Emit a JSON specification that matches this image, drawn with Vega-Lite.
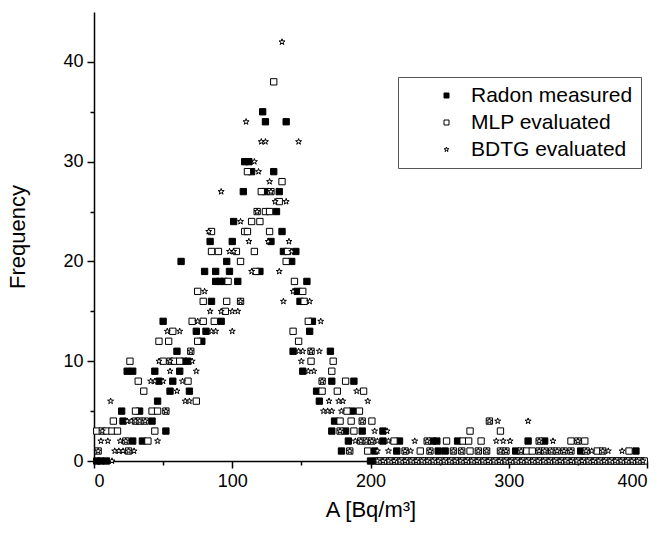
{
"$schema": "https://vega.github.io/schema/vega-lite/v6.json",
"width": 553, "height": 449,
"autosize": {"type": "none"},
"padding": {"left": 94, "top": 12, "right": 18, "bottom": 72},
"background": "white",
"config": {"view": {"stroke": null}, "font": "Liberation Sans"},
"data": {"values": [
{"s":"R","x":2,"y":0},{"s":"R","x":5,"y":0},{"s":"R","x":9,"y":0},{"s":"R","x":28,"y":2},{"s":"R","x":35,"y":2},{"s":"R","x":52,"y":3},{"s":"R","x":21,"y":4},{"s":"R","x":42,"y":4},{"s":"R","x":20,"y":5},{"s":"R","x":33,"y":5},{"s":"R","x":46,"y":6},{"s":"R","x":55,"y":7},{"s":"R","x":69,"y":7},{"s":"R","x":47,"y":8},{"s":"R","x":57,"y":8},{"s":"R","x":24,"y":9},{"s":"R","x":28,"y":9},{"s":"R","x":44,"y":9},{"s":"R","x":62,"y":9},{"s":"R","x":65,"y":10},{"s":"R","x":68,"y":10},{"s":"R","x":60,"y":11},{"s":"R","x":78,"y":12},{"s":"R","x":74,"y":13},{"s":"R","x":81,"y":13},{"s":"R","x":50,"y":14},{"s":"R","x":92,"y":14},{"s":"R","x":85,"y":16},{"s":"R","x":88,"y":18},{"s":"R","x":91,"y":18},{"s":"R","x":94,"y":18},{"s":"R","x":104,"y":18},{"s":"R","x":80,"y":19},{"s":"R","x":88,"y":19},{"s":"R","x":98,"y":19},{"s":"R","x":120,"y":19},{"s":"R","x":63,"y":20},{"s":"R","x":96,"y":20},{"s":"R","x":84,"y":22},{"s":"R","x":100,"y":22},{"s":"R","x":128,"y":22},{"s":"R","x":101,"y":24},{"s":"R","x":132,"y":25},{"s":"R","x":108,"y":27},{"s":"R","x":124,"y":27},{"s":"R","x":134,"y":27},{"s":"R","x":114,"y":29},{"s":"R","x":130,"y":29},{"s":"R","x":109,"y":30},{"s":"R","x":112,"y":30},{"s":"R","x":124,"y":34},{"s":"R","x":139,"y":34},{"s":"R","x":122,"y":35},
{"s":"R","x":136,"y":23},{"s":"R","x":137,"y":21},{"s":"R","x":146,"y":21},{"s":"R","x":143,"y":20},{"s":"R","x":154,"y":18},{"s":"R","x":147,"y":17},{"s":"R","x":149,"y":16},{"s":"R","x":158,"y":14},{"s":"R","x":156,"y":13},{"s":"R","x":144,"y":11},{"s":"R","x":171,"y":11},{"s":"R","x":151,"y":9},{"s":"R","x":172,"y":8},{"s":"R","x":188,"y":8},{"s":"R","x":161,"y":7},{"s":"R","x":163,"y":6},{"s":"R","x":187,"y":5},{"s":"R","x":174,"y":4},{"s":"R","x":172,"y":3},{"s":"R","x":182,"y":3},{"s":"R","x":194,"y":3},{"s":"R","x":209,"y":3},{"s":"R","x":184,"y":2},{"s":"R","x":209,"y":2},{"s":"R","x":221,"y":2},{"s":"R","x":245,"y":2},{"s":"R","x":248,"y":2},{"s":"R","x":263,"y":2},{"s":"R","x":314,"y":2},{"s":"R","x":326,"y":2},{"s":"R","x":179,"y":1},{"s":"R","x":203,"y":1},{"s":"R","x":219,"y":1},{"s":"R","x":249,"y":1},{"s":"R","x":254,"y":1},{"s":"R","x":305,"y":1},{"s":"R","x":352,"y":1},{"s":"R","x":392,"y":1},
{"s":"R","x":200,"y":0},{"s":"R","x":204,"y":0},{"s":"R","x":208,"y":0},{"s":"R","x":212,"y":0},{"s":"R","x":216,"y":0},{"s":"R","x":220,"y":0},{"s":"R","x":224,"y":0},{"s":"R","x":228,"y":0},{"s":"R","x":232,"y":0},{"s":"R","x":236,"y":0},{"s":"R","x":240,"y":0},{"s":"R","x":244,"y":0},{"s":"R","x":248,"y":0},{"s":"R","x":252,"y":0},{"s":"R","x":256,"y":0},{"s":"R","x":260,"y":0},{"s":"R","x":264,"y":0},{"s":"R","x":268,"y":0},{"s":"R","x":272,"y":0},{"s":"R","x":276,"y":0},{"s":"R","x":280,"y":0},{"s":"R","x":284,"y":0},{"s":"R","x":288,"y":0},{"s":"R","x":292,"y":0},{"s":"R","x":296,"y":0},{"s":"R","x":300,"y":0},{"s":"R","x":304,"y":0},{"s":"R","x":308,"y":0},{"s":"R","x":312,"y":0},{"s":"R","x":316,"y":0},{"s":"R","x":320,"y":0},{"s":"R","x":324,"y":0},{"s":"R","x":328,"y":0},{"s":"R","x":332,"y":0},{"s":"R","x":336,"y":0},{"s":"R","x":340,"y":0},{"s":"R","x":344,"y":0},{"s":"R","x":348,"y":0},{"s":"R","x":352,"y":0},{"s":"R","x":356,"y":0},{"s":"R","x":360,"y":0},{"s":"R","x":364,"y":0},{"s":"R","x":368,"y":0},{"s":"R","x":372,"y":0},{"s":"R","x":376,"y":0},{"s":"R","x":380,"y":0},{"s":"R","x":384,"y":0},{"s":"R","x":388,"y":0},{"s":"R","x":392,"y":0},{"s":"R","x":396,"y":0},
{"s":"M","x":2,"y":3},{"s":"M","x":3,"y":1},{"s":"M","x":6,"y":3},{"s":"M","x":9,"y":3},{"s":"M","x":13,"y":3},{"s":"M","x":17,"y":3},{"s":"M","x":23,"y":2},{"s":"M","x":39,"y":2},{"s":"M","x":25,"y":1},{"s":"M","x":44,"y":3},{"s":"M","x":14,"y":4},{"s":"M","x":30,"y":4},{"s":"M","x":33,"y":4},{"s":"M","x":37,"y":4},{"s":"M","x":30,"y":5},{"s":"M","x":42,"y":5},{"s":"M","x":46,"y":5},{"s":"M","x":52,"y":5},{"s":"M","x":74,"y":6},{"s":"M","x":36,"y":7},{"s":"M","x":32,"y":8},{"s":"M","x":68,"y":8},{"s":"M","x":26,"y":10},{"s":"M","x":50,"y":10},{"s":"M","x":55,"y":10},{"s":"M","x":58,"y":10},{"s":"M","x":62,"y":10},{"s":"M","x":70,"y":11},{"s":"M","x":47,"y":12},{"s":"M","x":54,"y":12},{"s":"M","x":75,"y":12},{"s":"M","x":57,"y":13},{"s":"M","x":71,"y":14},{"s":"M","x":79,"y":14},{"s":"M","x":87,"y":14},{"s":"M","x":95,"y":15},{"s":"M","x":79,"y":16},{"s":"M","x":96,"y":16},{"s":"M","x":106,"y":16},{"s":"M","x":75,"y":17},{"s":"M","x":97,"y":18},{"s":"M","x":117,"y":19},{"s":"M","x":106,"y":20},{"s":"M","x":85,"y":21},{"s":"M","x":90,"y":21},{"s":"M","x":103,"y":21},{"s":"M","x":116,"y":21},{"s":"M","x":85,"y":23},{"s":"M","x":109,"y":23},{"s":"M","x":111,"y":23},{"s":"M","x":127,"y":23},{"s":"M","x":114,"y":24},{"s":"M","x":120,"y":24},{"s":"M","x":118,"y":25},{"s":"M","x":124,"y":25},{"s":"M","x":127,"y":25},{"s":"M","x":134,"y":26},{"s":"M","x":121,"y":27},{"s":"M","x":128,"y":27},{"s":"M","x":136,"y":28},{"s":"M","x":111,"y":29},{"s":"M","x":130,"y":38},
{"s":"M","x":140,"y":21},{"s":"M","x":139,"y":20},{"s":"M","x":145,"y":18},{"s":"M","x":151,"y":17},{"s":"M","x":152,"y":16},{"s":"M","x":155,"y":14},{"s":"M","x":144,"y":13},{"s":"M","x":148,"y":12},{"s":"M","x":157,"y":11},{"s":"M","x":157,"y":10},{"s":"M","x":173,"y":10},{"s":"M","x":172,"y":9},{"s":"M","x":165,"y":8},{"s":"M","x":182,"y":8},{"s":"M","x":165,"y":7},{"s":"M","x":176,"y":7},{"s":"M","x":195,"y":7},{"s":"M","x":183,"y":5},{"s":"M","x":192,"y":5},{"s":"M","x":178,"y":4},{"s":"M","x":186,"y":4},{"s":"M","x":194,"y":4},{"s":"M","x":201,"y":4},{"s":"M","x":286,"y":4},{"s":"M","x":178,"y":3},{"s":"M","x":188,"y":3},{"s":"M","x":272,"y":3},{"s":"M","x":294,"y":3},
{"s":"M","x":193,"y":2},{"s":"M","x":197,"y":2},{"s":"M","x":201,"y":2},{"s":"M","x":217,"y":2},{"s":"M","x":241,"y":2},{"s":"M","x":255,"y":2},{"s":"M","x":267,"y":2},{"s":"M","x":271,"y":2},{"s":"M","x":280,"y":2},{"s":"M","x":322,"y":2},{"s":"M","x":345,"y":2},{"s":"M","x":350,"y":2},{"s":"M","x":355,"y":2},
{"s":"M","x":185,"y":1},{"s":"M","x":198,"y":1},{"s":"M","x":225,"y":1},{"s":"M","x":236,"y":1},{"s":"M","x":243,"y":1},{"s":"M","x":260,"y":1},{"s":"M","x":266,"y":1},{"s":"M","x":272,"y":1},{"s":"M","x":278,"y":1},{"s":"M","x":284,"y":1},{"s":"M","x":294,"y":1},{"s":"M","x":298,"y":1},{"s":"M","x":309,"y":1},{"s":"M","x":313,"y":1},{"s":"M","x":317,"y":1},{"s":"M","x":322,"y":1},{"s":"M","x":326,"y":1},{"s":"M","x":331,"y":1},{"s":"M","x":335,"y":1},{"s":"M","x":340,"y":1},{"s":"M","x":345,"y":1},{"s":"M","x":356,"y":1},{"s":"M","x":364,"y":1},{"s":"M","x":368,"y":1},{"s":"M","x":387,"y":1},
{"s":"M","x":206,"y":0},{"s":"M","x":210,"y":0},{"s":"M","x":214,"y":0},{"s":"M","x":218,"y":0},{"s":"M","x":222,"y":0},{"s":"M","x":226,"y":0},{"s":"M","x":230,"y":0},{"s":"M","x":234,"y":0},{"s":"M","x":238,"y":0},{"s":"M","x":242,"y":0},{"s":"M","x":246,"y":0},{"s":"M","x":250,"y":0},{"s":"M","x":254,"y":0},{"s":"M","x":258,"y":0},{"s":"M","x":262,"y":0},{"s":"M","x":266,"y":0},{"s":"M","x":270,"y":0},{"s":"M","x":274,"y":0},{"s":"M","x":278,"y":0},{"s":"M","x":282,"y":0},{"s":"M","x":286,"y":0},{"s":"M","x":290,"y":0},{"s":"M","x":294,"y":0},{"s":"M","x":298,"y":0},{"s":"M","x":302,"y":0},{"s":"M","x":306,"y":0},{"s":"M","x":310,"y":0},{"s":"M","x":314,"y":0},{"s":"M","x":318,"y":0},{"s":"M","x":322,"y":0},{"s":"M","x":326,"y":0},{"s":"M","x":330,"y":0},{"s":"M","x":334,"y":0},{"s":"M","x":338,"y":0},{"s":"M","x":342,"y":0},{"s":"M","x":346,"y":0},{"s":"M","x":350,"y":0},{"s":"M","x":354,"y":0},{"s":"M","x":358,"y":0},{"s":"M","x":362,"y":0},{"s":"M","x":366,"y":0},{"s":"M","x":370,"y":0},{"s":"M","x":374,"y":0},{"s":"M","x":378,"y":0},{"s":"M","x":382,"y":0},{"s":"M","x":386,"y":0},{"s":"M","x":390,"y":0},{"s":"M","x":394,"y":0},{"s":"M","x":398,"y":0},
{"s":"B","x":13,"y":0},{"s":"B","x":3,"y":1},{"s":"B","x":15,"y":1},{"s":"B","x":18,"y":1},{"s":"B","x":21,"y":1},{"s":"B","x":25,"y":1},{"s":"B","x":29,"y":1},{"s":"B","x":5,"y":2},{"s":"B","x":10,"y":2},{"s":"B","x":19,"y":2},{"s":"B","x":23,"y":2},{"s":"B","x":46,"y":2},{"s":"B","x":6,"y":3},{"s":"B","x":24,"y":4},{"s":"B","x":27,"y":4},{"s":"B","x":30,"y":4},{"s":"B","x":33,"y":4},{"s":"B","x":37,"y":4},{"s":"B","x":52,"y":5},{"s":"B","x":12,"y":6},{"s":"B","x":66,"y":6},{"s":"B","x":69,"y":6},{"s":"B","x":60,"y":7},{"s":"B","x":41,"y":8},{"s":"B","x":44,"y":8},{"s":"B","x":50,"y":8},{"s":"B","x":64,"y":8},{"s":"B","x":55,"y":9},{"s":"B","x":74,"y":9},{"s":"B","x":47,"y":10},{"s":"B","x":55,"y":10},{"s":"B","x":71,"y":10},{"s":"B","x":70,"y":11},{"s":"B","x":53,"y":13},{"s":"B","x":62,"y":13},{"s":"B","x":85,"y":13},{"s":"B","x":88,"y":13},{"s":"B","x":100,"y":13},{"s":"B","x":75,"y":14},{"s":"B","x":84,"y":15},{"s":"B","x":92,"y":15},{"s":"B","x":100,"y":15},{"s":"B","x":104,"y":15},{"s":"B","x":106,"y":16},{"s":"B","x":137,"y":16},{"s":"B","x":80,"y":17},{"s":"B","x":114,"y":19},{"s":"B","x":134,"y":19},{"s":"B","x":98,"y":21},{"s":"B","x":101,"y":21},{"s":"B","x":112,"y":22},{"s":"B","x":126,"y":22},{"s":"B","x":141,"y":22},{"s":"B","x":83,"y":23},{"s":"B","x":106,"y":24},{"s":"B","x":118,"y":25},{"s":"B","x":131,"y":26},{"s":"B","x":139,"y":26},{"s":"B","x":92,"y":27},{"s":"B","x":128,"y":27},{"s":"B","x":127,"y":28},{"s":"B","x":119,"y":29},{"s":"B","x":116,"y":30},{"s":"B","x":121,"y":32},{"s":"B","x":124,"y":32},{"s":"B","x":148,"y":32},{"s":"B","x":110,"y":34},{"s":"B","x":136,"y":42},
{"s":"B","x":143,"y":21},{"s":"B","x":144,"y":17},{"s":"B","x":156,"y":16},{"s":"B","x":164,"y":14},{"s":"B","x":148,"y":11},{"s":"B","x":151,"y":11},{"s":"B","x":157,"y":11},{"s":"B","x":163,"y":11},{"s":"B","x":150,"y":10},{"s":"B","x":155,"y":9},{"s":"B","x":159,"y":9},{"s":"B","x":165,"y":8},{"s":"B","x":190,"y":7},{"s":"B","x":170,"y":6},{"s":"B","x":177,"y":6},{"s":"B","x":180,"y":6},{"s":"B","x":198,"y":6},{"s":"B","x":166,"y":5},{"s":"B","x":169,"y":5},{"s":"B","x":172,"y":5},{"s":"B","x":179,"y":5},{"s":"B","x":194,"y":4},{"s":"B","x":286,"y":4},{"s":"B","x":292,"y":4},{"s":"B","x":314,"y":4},{"s":"B","x":178,"y":3},{"s":"B","x":203,"y":3},{"s":"B","x":212,"y":3},
{"s":"B","x":189,"y":2},{"s":"B","x":193,"y":2},{"s":"B","x":197,"y":2},{"s":"B","x":201,"y":2},{"s":"B","x":205,"y":2},{"s":"B","x":213,"y":2},{"s":"B","x":232,"y":2},{"s":"B","x":241,"y":2},{"s":"B","x":291,"y":2},{"s":"B","x":296,"y":2},{"s":"B","x":301,"y":2},{"s":"B","x":322,"y":2},{"s":"B","x":332,"y":2},{"s":"B","x":350,"y":2},
{"s":"B","x":185,"y":1},{"s":"B","x":205,"y":1},{"s":"B","x":213,"y":1},{"s":"B","x":225,"y":1},{"s":"B","x":229,"y":1},{"s":"B","x":243,"y":1},{"s":"B","x":260,"y":1},{"s":"B","x":266,"y":1},{"s":"B","x":278,"y":1},{"s":"B","x":284,"y":1},{"s":"B","x":294,"y":1},{"s":"B","x":298,"y":1},{"s":"B","x":309,"y":1},{"s":"B","x":322,"y":1},{"s":"B","x":326,"y":1},{"s":"B","x":331,"y":1},{"s":"B","x":335,"y":1},{"s":"B","x":340,"y":1},{"s":"B","x":345,"y":1},{"s":"B","x":356,"y":1},{"s":"B","x":360,"y":1},{"s":"B","x":368,"y":1},{"s":"B","x":372,"y":1},{"s":"B","x":382,"y":1},
{"s":"B","x":205,"y":0},{"s":"B","x":209,"y":0},{"s":"B","x":213,"y":0},{"s":"B","x":217,"y":0},{"s":"B","x":221,"y":0},{"s":"B","x":225,"y":0},{"s":"B","x":229,"y":0},{"s":"B","x":233,"y":0},{"s":"B","x":237,"y":0},{"s":"B","x":241,"y":0},{"s":"B","x":245,"y":0},{"s":"B","x":249,"y":0},{"s":"B","x":253,"y":0},{"s":"B","x":257,"y":0},{"s":"B","x":261,"y":0},{"s":"B","x":265,"y":0},{"s":"B","x":269,"y":0},{"s":"B","x":273,"y":0},{"s":"B","x":277,"y":0},{"s":"B","x":281,"y":0},{"s":"B","x":285,"y":0},{"s":"B","x":289,"y":0},{"s":"B","x":293,"y":0},{"s":"B","x":297,"y":0},{"s":"B","x":301,"y":0},{"s":"B","x":305,"y":0},{"s":"B","x":309,"y":0},{"s":"B","x":313,"y":0},{"s":"B","x":317,"y":0},{"s":"B","x":321,"y":0},{"s":"B","x":325,"y":0},{"s":"B","x":329,"y":0},{"s":"B","x":333,"y":0},{"s":"B","x":337,"y":0},{"s":"B","x":341,"y":0},{"s":"B","x":345,"y":0},{"s":"B","x":349,"y":0},{"s":"B","x":353,"y":0},{"s":"B","x":357,"y":0},{"s":"B","x":361,"y":0},{"s":"B","x":365,"y":0},{"s":"B","x":369,"y":0},{"s":"B","x":373,"y":0},{"s":"B","x":377,"y":0},{"s":"B","x":381,"y":0},{"s":"B","x":385,"y":0},{"s":"B","x":389,"y":0},{"s":"B","x":393,"y":0},{"s":"B","x":397,"y":0}
]},
"mark": {"type": "point", "filled": true, "strokeWidth": 1, "opacity": 1, "size": 40},
"encoding": {
  "x": {"field": "x", "type": "quantitative",
    "scale": {"domain": [0, 400], "nice": false, "zero": false},
    "axis": {"title": "A [Bq/m³]", "values": [0,50,100,150,200,250,300,350,400],
      "labelExpr": "datum.value % 100 === 0 ? datum.label : ''",
      "tickSize": {"condition": {"test": "datum.value % 100 === 0", "value": 7}, "value": 4},
      "grid": false, "domainColor": "black", "domainWidth": 1.5, "tickColor": "black", "tickWidth": 1.5,
      "labelFontSize": 18, "labelColor": "black", "labelPadding": 4, "labelFont": "Liberation Sans",
      "titleFontSize": 22, "titleFontWeight": "normal", "titleColor": "black", "titlePadding": 9, "titleFont": "Liberation Sans"}},
  "y": {"field": "y", "type": "quantitative",
    "scale": {"domain": [0, 45], "nice": false, "zero": false},
    "axis": {"title": "Frequency", "values": [0,5,10,15,20,25,30,35,40],
      "labelExpr": "datum.value % 10 === 0 ? datum.label : ''",
      "tickSize": {"condition": {"test": "datum.value % 10 === 0", "value": 7}, "value": 4},
      "grid": false, "domainColor": "black", "domainWidth": 1.5, "tickColor": "black", "tickWidth": 1.5,
      "labelFontSize": 18, "labelColor": "black", "labelPadding": 4, "labelFont": "Liberation Sans",
      "titleFontSize": 22, "titleFontWeight": "normal", "titleColor": "black", "titlePadding": 33, "titleFont": "Liberation Sans"}},
  "shape": {"field": "s", "type": "nominal",
    "scale": {"domain": ["R","M","B"], "range": ["square","square","M0,-1L0.2245,-0.309L0.951,-0.309L0.363,0.118L0.588,0.809L0,0.382L-0.588,0.809L-0.363,0.118L-0.951,-0.309L-0.2245,-0.309Z"]},
    "legend": {"title": null, "orient": "none", "legendX": 304, "legendY": 65,
      "labelExpr": "datum.value == 'R' ? 'Radon measured' : datum.value == 'M' ? 'MLP evaluated' : 'BDTG evaluated'",
      "strokeColor": "#555", "padding": 8, "symbolOffset": 30, "symbolSize": 25, "symbolStrokeWidth": 1,
      "labelFontSize": 21, "labelFont": "Liberation Sans", "labelColor": "black", "labelOffset": 14, "rowPadding": 5, "labelLimit": 300}},
  "fill": {"field": "s", "type": "nominal",
    "scale": {"domain": ["R","M","B"], "range": ["black","white","white"]},
    "legend": {"title": null, "orient": "none", "legendX": 304, "legendY": 65,
      "labelExpr": "datum.value == 'R' ? 'Radon measured' : datum.value == 'M' ? 'MLP evaluated' : 'BDTG evaluated'",
      "strokeColor": "#555", "padding": 8, "symbolOffset": 30, "symbolSize": 25, "symbolStrokeWidth": 1,
      "labelFontSize": 21, "labelFont": "Liberation Sans", "labelColor": "black", "labelOffset": 14, "rowPadding": 5, "labelLimit": 300}},
  "stroke": {"field": "s", "type": "nominal",
    "scale": {"domain": ["R","M","B"], "range": ["black","black","black"]},
    "legend": {"title": null, "orient": "none", "legendX": 304, "legendY": 65,
      "labelExpr": "datum.value == 'R' ? 'Radon measured' : datum.value == 'M' ? 'MLP evaluated' : 'BDTG evaluated'",
      "strokeColor": "#555", "padding": 8, "symbolOffset": 30, "symbolSize": 25, "symbolStrokeWidth": 1,
      "labelFontSize": 21, "labelFont": "Liberation Sans", "labelColor": "black", "labelOffset": 14, "rowPadding": 5, "labelLimit": 300}}
}
}
